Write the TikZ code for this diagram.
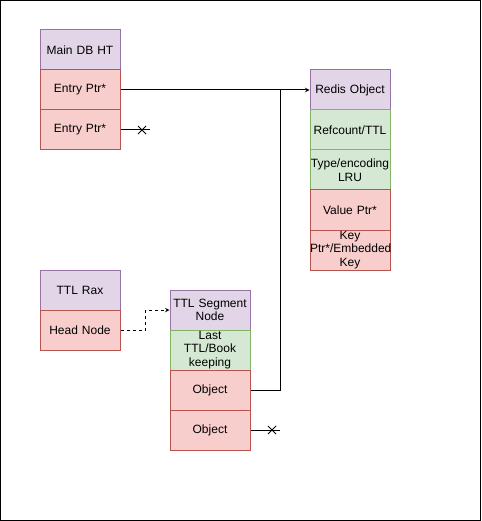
\documentclass[tikz,border=0pt]{standalone}
\usepackage{fontspec}
\setmainfont{Liberation Sans}
\usepackage{tikz}
\usetikzlibrary{arrows,shapes}
\usetikzlibrary{positioning}
\definecolor{hdfill}{HTML}{E1D5E7}
\definecolor{hddraw}{HTML}{9673A6}
\definecolor{gnfill}{HTML}{D5E8D4}
\definecolor{gndraw}{HTML}{82B366}
\definecolor{rdfill}{HTML}{F8CECC}
\definecolor{rddraw}{HTML}{B85450}
\tikzstyle{cell}=[rectangle,text width=80pt,minimum height=40pt,inner sep=0,
                align=center,font=\fontsize{12}{13.5}\selectfont]
\tikzstyle{hd}=[cell,fill=hdfill,draw=hddraw]
\tikzstyle{gn}=[cell,fill=gnfill,draw=gndraw]
\tikzstyle{rd}=[cell,fill=rdfill,draw=rddraw]
\tikzstyle{ptr}=[->,>=stealth]
\tikzstyle{cut}=[cross out,draw=black,minimum size=7pt,inner sep=0]

\begin{document}
\begin{tikzpicture}[x=1pt,y=-1pt,line width=1pt]
\useasboundingbox (0,0) rectangle (481,521);
\draw (0.5,0.5) rectangle (480.5,520.5);
% main hash table
\node[hd] (mdb) at (80,50) {Main DB HT};
\node[rd] (e1) at (80,90) {Entry Ptr*};
\node[rd] (e2) at (80,130) {Entry Ptr*};
% redis object
\node[hd] (ro) at (350,90) {Redis Object};
\node[gn] (rc) at (350,130) {Refcount/TTL};
\node[gn] (te) at (350,170) {Type/encoding\\LRU};
\node[rd] (vp) at (350,210) {Value Ptr*};
\node[rd] (kp) at (350,250) {Key\\Ptr*/Embedded\\Key};
% ttl rax
\node[hd] (rax) at (80,290) {TTL Rax};
\node[rd] (hn) at (80,330) {Head Node};
% segment
\node[hd] (seg) at (210,310) {TTL Segment\\Node};
\node[gn] (lt) at (210,350) {Last\\TTL/Book\\keeping};
\node[rd] (o1) at (210,390) {Object};
\node[rd] (o2) at (210,430) {Object};

\coordinate (j) at (280,90);
\coordinate (x1) at (150,130);
\coordinate (x2) at (280,430);
\draw[ptr] (e1.east) -- (ro.west);
\draw (o1.east) -| (j);
\draw[ptr,dashed] (hn.east) -- ++(25,0) |- (seg.west);
\draw (e2.east) -- (x1);
\draw (o2.east) -- (x2);
\node[cut] (c1) at (142,130) {};
\node[cut] (c2) at (272,430) {};
\end{tikzpicture}
\end{document}
